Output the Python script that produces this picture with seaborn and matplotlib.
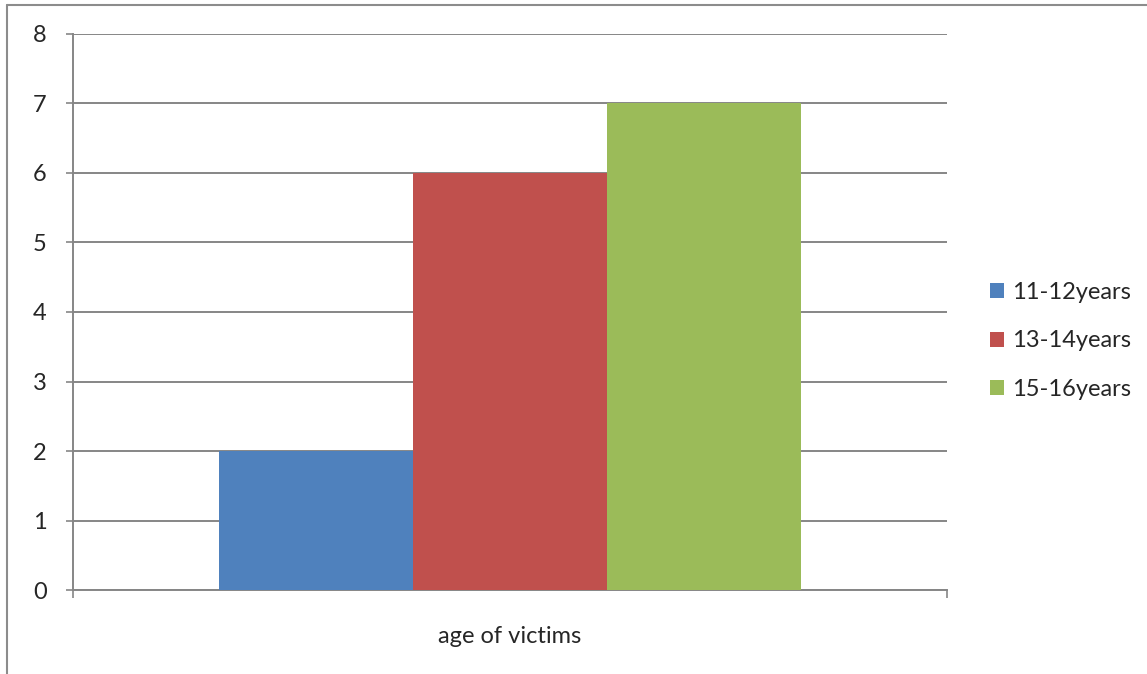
import pandas as pd
import seaborn as sns
import matplotlib.pyplot as plt
from matplotlib.lines import Line2D

# Chart data
category = "age of victims"
age_groups = ["11-12years", "13-14years", "15-16years"]
counts = [2, 6, 7]
colors = ["#4F81BD", "#C0504D", "#9BBB59"]
y_ticks = [0, 1, 2, 3, 4, 5, 6, 7, 8]

df = pd.DataFrame({"category": [category] * len(age_groups),
                   "group": age_groups,
                   "count": counts})

sns.set_style("white")
plt.rcParams['font.family'] = ['Lato', 'DejaVu Sans']

fig = plt.figure(figsize=(11.47, 6.74), dpi=100)
ax = fig.add_axes([0.0636, 0.1246, 0.762, 0.825])

sns.barplot(data=df, x="category", y="count", hue="group",
            palette=colors, width=0.666, saturation=1, ax=ax, zorder=3,
            linewidth=0)

grid_col = "#868686"
ax.set_ylim(0, 8)
ax.set_xlim(-0.5, 0.5)
ax.set_yticks(y_ticks)
ax.yaxis.grid(True, color=grid_col, linewidth=1.4, zorder=0)
ax.set_axisbelow(True)
ax.tick_params(axis="y", length=5, width=1.2, color=grid_col, labelsize=17,
               pad=14, left=True)

# category boundary ticks, category label as minor tick
ax.set_xticks([-0.5, 0.5], labels=["", ""])
ax.set_xticks([0], labels=[category], minor=True)
ax.tick_params(axis="x", which="major", length=6, width=1.2, color=grid_col,
               bottom=True)
ax.tick_params(axis="x", which="minor", length=0, labelsize=17, pad=26)
ax.set_xlabel("")
ax.set_ylabel("")

for side in ["top", "right"]:
    ax.spines[side].set_visible(False)
for side in ["left", "bottom"]:
    ax.spines[side].set_color(grid_col)
    ax.spines[side].set_linewidth(1.4)

leg = ax.legend(loc="center left", bbox_to_anchor=(1.025, 0.448), frameon=False,
                fontsize=17, handlelength=0.6, handleheight=0.6,
                handletextpad=0.35, labelspacing=1.15, title=None)

# outer chart border (only top and left visible)
fig.add_artist(Line2D([0.0061, 1.0], [0.9926, 0.9926], color="#8c8c8c",
                      linewidth=1.5, transform=fig.transFigure))
fig.add_artist(Line2D([0.0061, 0.0061], [0.0, 0.9926], color="#8c8c8c",
                      linewidth=1.5, transform=fig.transFigure))

fig.savefig("out.png", dpi=100)
